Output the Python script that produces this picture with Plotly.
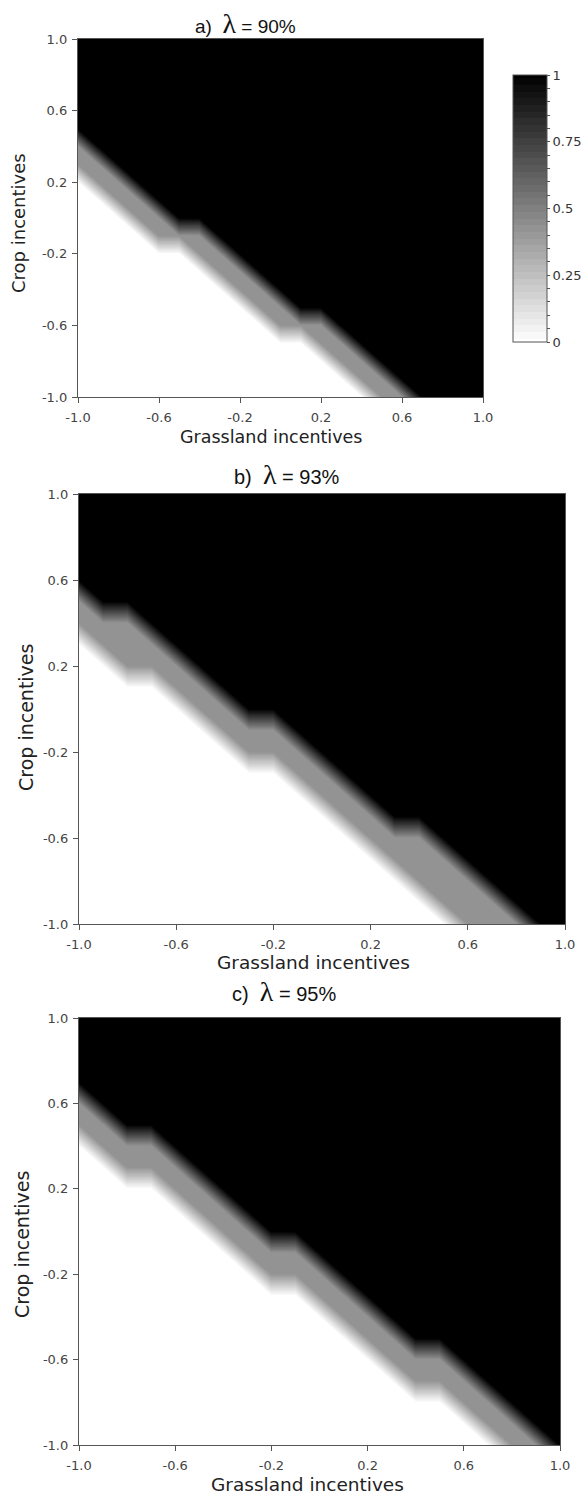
import plotly.graph_objects as go

# ---------------- data ----------------
GRID_X = [-1.0, -0.9, -0.8, -0.7, -0.6, -0.5, -0.4, -0.3, -0.2, -0.1, 0.0,
          0.1, 0.2, 0.3, 0.4, 0.5, 0.6, 0.7, 0.8, 0.9, 1.0]
# rows listed from Crop incentive = 1.0 (top) down to -1.0 (bottom)
GRID_Y_TOP_DOWN = [1.0, 0.9, 0.8, 0.7, 0.6, 0.5, 0.4, 0.3, 0.2, 0.1, 0.0,
                   -0.1, -0.2, -0.3, -0.4, -0.5, -0.6, -0.7, -0.8, -0.9, -1.0]

Z_A = [  # lambda = 90%
    [1, 1, 1, 1, 1, 1, 1, 1, 1, 1, 1, 1, 1, 1, 1, 1, 1, 1, 1, 1, 1],
    [1, 1, 1, 1, 1, 1, 1, 1, 1, 1, 1, 1, 1, 1, 1, 1, 1, 1, 1, 1, 1],
    [1, 1, 1, 1, 1, 1, 1, 1, 1, 1, 1, 1, 1, 1, 1, 1, 1, 1, 1, 1, 1],
    [1, 1, 1, 1, 1, 1, 1, 1, 1, 1, 1, 1, 1, 1, 1, 1, 1, 1, 1, 1, 1],
    [1, 1, 1, 1, 1, 1, 1, 1, 1, 1, 1, 1, 1, 1, 1, 1, 1, 1, 1, 1, 1],
    [1, 1, 1, 1, 1, 1, 1, 1, 1, 1, 1, 1, 1, 1, 1, 1, 1, 1, 1, 1, 1],
    [.42, 1, 1, 1, 1, 1, 1, 1, 1, 1, 1, 1, 1, 1, 1, 1, 1, 1, 1, 1, 1],
    [.42, .42, 1, 1, 1, 1, 1, 1, 1, 1, 1, 1, 1, 1, 1, 1, 1, 1, 1, 1, 1],
    [0, .42, .42, 1, 1, 1, 1, 1, 1, 1, 1, 1, 1, 1, 1, 1, 1, 1, 1, 1, 1],
    [0, 0, .42, .42, 1, 1, 1, 1, 1, 1, 1, 1, 1, 1, 1, 1, 1, 1, 1, 1, 1],
    [0, 0, 0, .42, .42, 1, 1, 1, 1, 1, 1, 1, 1, 1, 1, 1, 1, 1, 1, 1, 1],
    [0, 0, 0, 0, .42, .42, .42, 1, 1, 1, 1, 1, 1, 1, 1, 1, 1, 1, 1, 1, 1],
    [0, 0, 0, 0, 0, 0, .42, .42, 1, 1, 1, 1, 1, 1, 1, 1, 1, 1, 1, 1, 1],
    [0, 0, 0, 0, 0, 0, 0, .42, .42, 1, 1, 1, 1, 1, 1, 1, 1, 1, 1, 1, 1],
    [0, 0, 0, 0, 0, 0, 0, 0, .42, .42, 1, 1, 1, 1, 1, 1, 1, 1, 1, 1, 1],
    [0, 0, 0, 0, 0, 0, 0, 0, 0, .42, .42, 1, 1, 1, 1, 1, 1, 1, 1, 1, 1],
    [0, 0, 0, 0, 0, 0, 0, 0, 0, 0, .42, .42, .42, 1, 1, 1, 1, 1, 1, 1, 1],
    [0, 0, 0, 0, 0, 0, 0, 0, 0, 0, 0, 0, .42, .42, 1, 1, 1, 1, 1, 1, 1],
    [0, 0, 0, 0, 0, 0, 0, 0, 0, 0, 0, 0, 0, .42, .42, 1, 1, 1, 1, 1, 1],
    [0, 0, 0, 0, 0, 0, 0, 0, 0, 0, 0, 0, 0, 0, .42, .42, 1, 1, 1, 1, 1],
    [0, 0, 0, 0, 0, 0, 0, 0, 0, 0, 0, 0, 0, 0, 0, .42, .42, 1, 1, 1, 1],
]

Z_B = [  # lambda = 93%
    [1, 1, 1, 1, 1, 1, 1, 1, 1, 1, 1, 1, 1, 1, 1, 1, 1, 1, 1, 1, 1],
    [1, 1, 1, 1, 1, 1, 1, 1, 1, 1, 1, 1, 1, 1, 1, 1, 1, 1, 1, 1, 1],
    [1, 1, 1, 1, 1, 1, 1, 1, 1, 1, 1, 1, 1, 1, 1, 1, 1, 1, 1, 1, 1],
    [1, 1, 1, 1, 1, 1, 1, 1, 1, 1, 1, 1, 1, 1, 1, 1, 1, 1, 1, 1, 1],
    [1, 1, 1, 1, 1, 1, 1, 1, 1, 1, 1, 1, 1, 1, 1, 1, 1, 1, 1, 1, 1],
    [.42, 1, 1, 1, 1, 1, 1, 1, 1, 1, 1, 1, 1, 1, 1, 1, 1, 1, 1, 1, 1],
    [.42, .42, .42, 1, 1, 1, 1, 1, 1, 1, 1, 1, 1, 1, 1, 1, 1, 1, 1, 1, 1],
    [0, .42, .42, .42, 1, 1, 1, 1, 1, 1, 1, 1, 1, 1, 1, 1, 1, 1, 1, 1, 1],
    [0, 0, .42, .42, .42, 1, 1, 1, 1, 1, 1, 1, 1, 1, 1, 1, 1, 1, 1, 1, 1],
    [0, 0, 0, 0, .42, .42, 1, 1, 1, 1, 1, 1, 1, 1, 1, 1, 1, 1, 1, 1, 1],
    [0, 0, 0, 0, 0, .42, .42, 1, 1, 1, 1, 1, 1, 1, 1, 1, 1, 1, 1, 1, 1],
    [0, 0, 0, 0, 0, 0, .42, .42, .42, 1, 1, 1, 1, 1, 1, 1, 1, 1, 1, 1, 1],
    [0, 0, 0, 0, 0, 0, 0, .42, .42, .42, 1, 1, 1, 1, 1, 1, 1, 1, 1, 1, 1],
    [0, 0, 0, 0, 0, 0, 0, 0, 0, .42, .42, 1, 1, 1, 1, 1, 1, 1, 1, 1, 1],
    [0, 0, 0, 0, 0, 0, 0, 0, 0, 0, .42, .42, 1, 1, 1, 1, 1, 1, 1, 1, 1],
    [0, 0, 0, 0, 0, 0, 0, 0, 0, 0, 0, .42, .42, 1, 1, 1, 1, 1, 1, 1, 1],
    [0, 0, 0, 0, 0, 0, 0, 0, 0, 0, 0, 0, .42, .42, .42, 1, 1, 1, 1, 1, 1],
    [0, 0, 0, 0, 0, 0, 0, 0, 0, 0, 0, 0, 0, .42, .42, .42, 1, 1, 1, 1, 1],
    [0, 0, 0, 0, 0, 0, 0, 0, 0, 0, 0, 0, 0, 0, .42, .42, .42, 1, 1, 1, 1],
    [0, 0, 0, 0, 0, 0, 0, 0, 0, 0, 0, 0, 0, 0, 0, .42, .42, .42, 1, 1, 1],
    [0, 0, 0, 0, 0, 0, 0, 0, 0, 0, 0, 0, 0, 0, 0, 0, .42, .42, .42, 1, 1],
]

Z_C = [  # lambda = 95%
    [1, 1, 1, 1, 1, 1, 1, 1, 1, 1, 1, 1, 1, 1, 1, 1, 1, 1, 1, 1, 1],
    [1, 1, 1, 1, 1, 1, 1, 1, 1, 1, 1, 1, 1, 1, 1, 1, 1, 1, 1, 1, 1],
    [1, 1, 1, 1, 1, 1, 1, 1, 1, 1, 1, 1, 1, 1, 1, 1, 1, 1, 1, 1, 1],
    [1, 1, 1, 1, 1, 1, 1, 1, 1, 1, 1, 1, 1, 1, 1, 1, 1, 1, 1, 1, 1],
    [.42, 1, 1, 1, 1, 1, 1, 1, 1, 1, 1, 1, 1, 1, 1, 1, 1, 1, 1, 1, 1],
    [.42, .42, 1, 1, 1, 1, 1, 1, 1, 1, 1, 1, 1, 1, 1, 1, 1, 1, 1, 1, 1],
    [0, .42, .42, .42, 1, 1, 1, 1, 1, 1, 1, 1, 1, 1, 1, 1, 1, 1, 1, 1, 1],
    [0, 0, .42, .42, .42, 1, 1, 1, 1, 1, 1, 1, 1, 1, 1, 1, 1, 1, 1, 1, 1],
    [0, 0, 0, 0, .42, .42, 1, 1, 1, 1, 1, 1, 1, 1, 1, 1, 1, 1, 1, 1, 1],
    [0, 0, 0, 0, 0, .42, .42, 1, 1, 1, 1, 1, 1, 1, 1, 1, 1, 1, 1, 1, 1],
    [0, 0, 0, 0, 0, 0, .42, .42, 1, 1, 1, 1, 1, 1, 1, 1, 1, 1, 1, 1, 1],
    [0, 0, 0, 0, 0, 0, 0, .42, .42, .42, 1, 1, 1, 1, 1, 1, 1, 1, 1, 1, 1],
    [0, 0, 0, 0, 0, 0, 0, 0, .42, .42, .42, 1, 1, 1, 1, 1, 1, 1, 1, 1, 1],
    [0, 0, 0, 0, 0, 0, 0, 0, 0, 0, .42, .42, 1, 1, 1, 1, 1, 1, 1, 1, 1],
    [0, 0, 0, 0, 0, 0, 0, 0, 0, 0, 0, .42, .42, 1, 1, 1, 1, 1, 1, 1, 1],
    [0, 0, 0, 0, 0, 0, 0, 0, 0, 0, 0, 0, .42, .42, 1, 1, 1, 1, 1, 1, 1],
    [0, 0, 0, 0, 0, 0, 0, 0, 0, 0, 0, 0, 0, .42, .42, .42, 1, 1, 1, 1, 1],
    [0, 0, 0, 0, 0, 0, 0, 0, 0, 0, 0, 0, 0, 0, .42, .42, .42, 1, 1, 1, 1],
    [0, 0, 0, 0, 0, 0, 0, 0, 0, 0, 0, 0, 0, 0, 0, 0, .42, .42, 1, 1, 1],
    [0, 0, 0, 0, 0, 0, 0, 0, 0, 0, 0, 0, 0, 0, 0, 0, 0, .42, .42, 1, 1],
    [0, 0, 0, 0, 0, 0, 0, 0, 0, 0, 0, 0, 0, 0, 0, 0, 0, 0, .42, .42, 1],
]

PANEL_LETTERS = ["a)", "b)", "c)"]
LAMBDAS = ["90%", "93%", "95%"]
AXIS_TICKS = [-1.0, -0.6, -0.2, 0.2, 0.6, 1.0]
AXIS_TICK_TEXT = ["-1.0", "-0.6", "-0.2", "0.2", "0.6", "1.0"]
CB_TICKS = [0, 0.05, 0.1, 0.15, 0.2, 0.25, 0.3, 0.35, 0.4, 0.45, 0.5,
            0.55, 0.6, 0.65, 0.7, 0.75, 0.8, 0.85, 0.9, 0.95, 1.0]
CB_TEXT = ["0", "", "", "", "", "0.25", "", "", "", "", "0.5",
           "", "", "", "", "0.75", "", "", "", "", "1"]
X_TITLE = "Grassland incentives"
Y_TITLE = "Crop incentives"

for rows in (Z_A, Z_B, Z_C):
    assert len(rows) == 21 and all(len(r) == 21 for r in rows)

# ---------------- layout geometry (pixels) ----------------
W, H = 584, 1496
BOXES = [(78, 483, 39, 397), (79, 565, 494, 924), (79, 560, 1018, 1445)]
TITLE_POS = [(193, 23, 19), (232, 474, 20), (230, 991, 20)]
XT_POS = [(271, 437, 17.5), (313, 962, 18.5), (307, 1484, 18.5)]
YT_POS = [(19, 223, 18), (26, 718, 19), (22, 1245, 19)]

def px(x):
    return x / W

def py(y):
    return 1 - y / H

gray_scale = [[0, "#ffffff"], [1, "#000000"]]
fig = go.Figure()
zs = [Z_A, Z_B, Z_C]
for i, z in enumerate(zs):
    sfx = "" if i == 0 else str(i + 1)
    fig.add_trace(go.Contour(
        x=GRID_X, y=list(reversed(GRID_Y_TOP_DOWN)), z=list(reversed(z)),
        colorscale=gray_scale, zmin=0, zmax=1, autocontour=False,
        contours=dict(start=0.0125, end=0.9875, size=0.025, coloring="fill",
                      showlines=False),
        line=dict(width=0, smoothing=0),
        showscale=(i == 0), xaxis="x" + sfx, yaxis="y" + sfx,
        hoverinfo="skip",
        colorbar=dict(
            x=px(513), xanchor="left", y=py((75 + 342) / 2), yanchor="middle",
            len=267, lenmode="pixels", thickness=34, thicknessmode="pixels",
            outlinewidth=1, outlinecolor="#555555", xpad=0, ypad=0,
            tickmode="array", tickvals=CB_TICKS, ticktext=CB_TEXT,
            ticks="outside", ticklen=3, tickwidth=1, tickcolor="#555555",
            tickfont=dict(family="DejaVu Sans", size=13, color="#333333"),
        ) if i == 0 else None,
    ))

axis_common = dict(
    range=[-1, 1], tickmode="array", tickvals=AXIS_TICKS, ticktext=AXIS_TICK_TEXT,
    ticks="outside", ticklen=5, tickwidth=1, tickcolor="#555555",
    showline=True, linecolor="#555555", linewidth=1.3, mirror=True,
    showgrid=False, zeroline=False, fixedrange=True, automargin=False,
    tickfont=dict(family="DejaVu Sans", size=13, color="#444444"),
)

layout = dict(width=W, height=H,
              margin=dict(l=0, r=0, t=0, b=0, pad=0, autoexpand=False),
              paper_bgcolor="white", plot_bgcolor="white", showlegend=False)
annotations = []
for i, (l, r, t, b) in enumerate(BOXES):
    sfx = "" if i == 0 else str(i + 1)
    layout["xaxis" + sfx] = dict(axis_common, domain=[px(l), px(r)],
                                 anchor="y" + sfx, ticklabelstandoff=3)
    layout["yaxis" + sfx] = dict(axis_common, domain=[py(b), py(t)],
                                 anchor="x" + sfx, ticklabelstandoff=2)
    tx, ty, tf = TITLE_POS[i]
    annotations.append(dict(
        xref="paper", yref="paper", x=px(tx), y=py(ty), xanchor="left", yanchor="middle",
        showarrow=False,
        text=PANEL_LETTERS[i] + "  <span style=\"font-family:Liberation Serif;font-size:28px\">λ</span> = " + LAMBDAS[i],
        font=dict(family="Liberation Sans", size=tf, color="#111111"),
    ))
    xx, xy, xf = XT_POS[i]
    annotations.append(dict(
        xref="paper", yref="paper", x=px(xx), y=py(xy), xanchor="center", yanchor="middle",
        showarrow=False, text=X_TITLE,
        font=dict(family="DejaVu Sans", size=xf, color="#222222"),
    ))
    yx, yy, yf = YT_POS[i]
    annotations.append(dict(
        xref="paper", yref="paper", x=px(yx), y=py(yy), xanchor="center", yanchor="middle",
        showarrow=False, text=Y_TITLE, textangle=-90,
        font=dict(family="DejaVu Sans", size=yf, color="#222222"),
    ))
layout["annotations"] = annotations
fig.update_layout(**layout)
fig.write_html(
    "out.html",
    config={"displayModeBar": False},
    post_script="document.body.style.margin='0px';document.body.style.padding='0px';"
                "document.documentElement.style.overflow='hidden';",
)
